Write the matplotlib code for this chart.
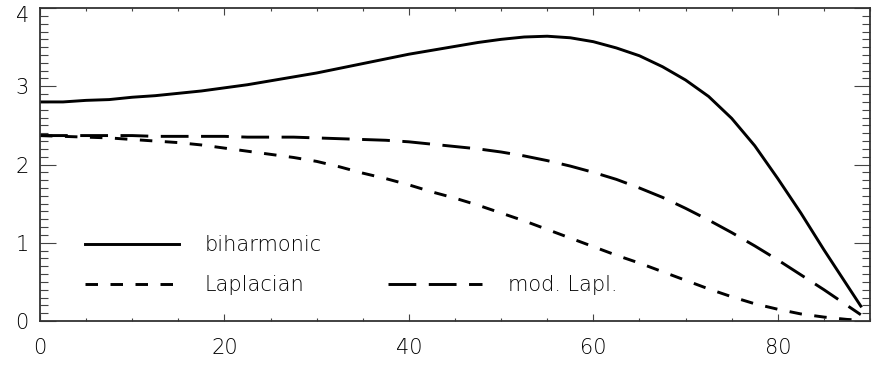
import matplotlib
matplotlib.use("Agg")
from matplotlib import pyplot as plt
from matplotlib.lines import Line2D
from matplotlib.ticker import MultipleLocator
from matplotlib.transforms import ScaledTranslation

x_values = [0, 2.5, 5, 7.5, 10, 12.5, 15, 17.5, 20, 22.5, 25, 27.5, 30, 32.5,
            35, 37.5, 40, 42.5, 45, 47.5, 50, 52.5, 55, 57.5, 60, 62.5, 65,
            67.5, 70, 72.5, 75, 77.5, 80, 82.5, 85, 87.5, 89]

biharmonic = [2.80, 2.80, 2.82, 2.83, 2.86, 2.88, 2.91, 2.94, 2.98, 3.02,
              3.07, 3.12, 3.17, 3.23, 3.29, 3.35, 3.41, 3.46, 3.51, 3.56,
              3.60, 3.63, 3.64, 3.62, 3.57, 3.49, 3.39, 3.25, 3.08, 2.87,
              2.59, 2.24, 1.82, 1.38, 0.91, 0.46, 0.19]
laplacian = [2.37, 2.36, 2.35, 2.34, 2.32, 2.30, 2.28, 2.25, 2.21, 2.17,
             2.13, 2.09, 2.04, 1.97, 1.89, 1.82, 1.74, 1.65, 1.57, 1.48,
             1.38, 1.28, 1.17, 1.06, 0.95, 0.84, 0.74, 0.63, 0.52, 0.41,
             0.31, 0.22, 0.15, 0.09, 0.05, 0.02, 0.01]
mod_lapl = [2.37, 2.37, 2.37, 2.37, 2.37, 2.36, 2.36, 2.36, 2.36, 2.35,
            2.35, 2.35, 2.34, 2.33, 2.32, 2.31, 2.29, 2.26, 2.23, 2.20,
            2.16, 2.11, 2.05, 1.98, 1.90, 1.81, 1.70, 1.58, 1.44, 1.29,
            1.13, 0.96, 0.78, 0.59, 0.40, 0.20, 0.08]

x_ticks = [0, 20, 40, 60, 80]
y_ticks = [0, 1, 2, 3, 4]

plt.rcParams["font.family"] = ["DejaVu Sans"]
plt.rcParams["font.weight"] = "light"
plt.rcParams["lines.scale_dashes"] = False


def main():
    figure = plt.figure(figsize=(8.84, 3.66), dpi=100)
    axis = figure.add_axes([0.0452, 0.123, 0.939, 0.855])

    line_width = 2.1
    solid, = axis.plot(x_values, biharmonic, color="black",
                       linewidth=line_width, label="biharmonic")
    short, = axis.plot(x_values, laplacian, color="black",
                       linewidth=line_width, dashes=(9, 9), label="Laplacian")
    long_, = axis.plot(x_values, mod_lapl, color="black",
                       linewidth=line_width, dashes=(20, 9), label="mod. Lapl.")

    axis.set_xlim(0, 90)
    axis.set_ylim(0, 4)
    axis.set_xticks(x_ticks)
    axis.set_yticks(y_ticks)
    axis.xaxis.set_minor_locator(MultipleLocator(5))
    axis.yaxis.set_minor_locator(MultipleLocator(0.1))

    axis.tick_params(axis="both", which="both", direction="in",
                     top=True, right=True, colors="#444444", width=0.8,
                     labelcolor="black", labelsize=15)
    axis.tick_params(axis="x", which="major", length=5, pad=12)
    axis.tick_params(axis="x", which="minor", length=2.5)
    axis.tick_params(axis="y", which="major", length=11.5, pad=8)
    axis.tick_params(axis="y", which="minor", length=5.8)

    for spine in axis.spines.values():
        spine.set_color("#333333")
        spine.set_linewidth(1.3)

    blank = Line2D([], [], linestyle="none")
    axis.legend(
        [solid, short, blank, long_],
        ["biharmonic", "Laplacian", "", "mod. Lapl."],
        ncols=2,
        frameon=False,
        fontsize=15,
        handlelength=4.5,
        handletextpad=1.25,
        columnspacing=3.2,
        labelspacing=0.95,
        borderpad=0,
        borderaxespad=0,
        loc="upper left",
        bbox_to_anchor=(0.054, 0.274),
    )

    # top label sits a little lower so it stays inside the figure
    figure.canvas.draw()
    for tick in axis.yaxis.get_major_ticks():
        if tick.get_loc() == 4:
            tick.label1.set_verticalalignment("top")
            tick.label1.set_transform(
                tick.label1.get_transform()
                + ScaledTranslation(0, 2 / 100, figure.dpi_scale_trans)
            )

    figure.savefig("out.png", dpi=100)


main()
